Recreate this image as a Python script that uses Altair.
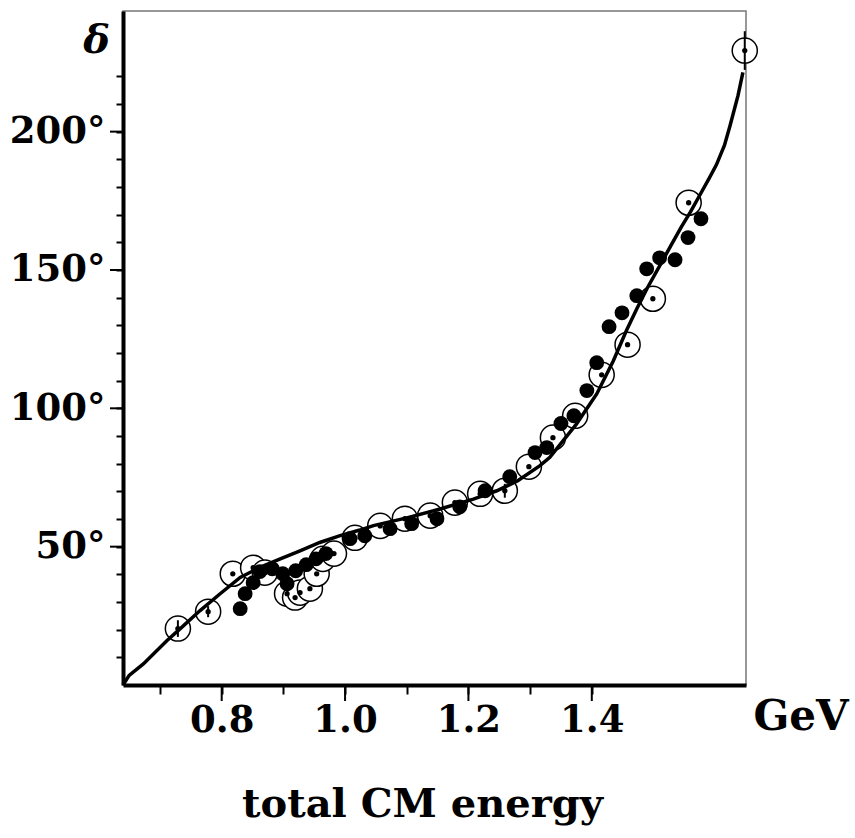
import altair as alt
import pandas as pd

# Theoretical phase-shift curve (energy in GeV, phase in degrees)
curve_e = [0.640, 0.650, 0.673, 0.711, 0.732, 0.765, 0.797, 0.830, 0.862, 0.894,
           0.927, 0.959, 0.992, 1.024, 1.046, 1.100, 1.154, 1.208, 1.246, 1.280,
           1.316, 1.332, 1.375, 1.408, 1.435, 1.456, 1.473, 1.490, 1.510, 1.530,
           1.545, 1.560, 1.575, 1.590, 1.602, 1.615, 1.624, 1.637, 1.645]
curve_d = [0.0, 3.5, 7.6, 16.0, 20.2, 26.9, 32.9, 38.9, 42.5, 45.5,
           48.5, 51.5, 54.0, 56.0, 57.6, 60.4, 63.6, 67.2, 70.2, 73.8,
           79.3, 82.3, 94.3, 105.2, 117.2, 128.0, 136.0, 143.5, 151.5, 159.5,
           165.5, 171.0, 177.0, 183.0, 188.0, 195.0, 202.0, 213.0, 221.4]

# Data set drawn as open circles with a centre dot
open_e = [0.729, 0.778, 0.818, 0.851, 0.870, 0.906, 0.919, 0.927, 0.943, 0.954,
          0.964, 0.982, 1.016, 1.057, 1.097, 1.138, 1.178, 1.219, 1.259, 1.298,
          1.337, 1.373, 1.416, 1.458, 1.499, 1.557, 1.648]
open_d = [20.4, 26.5, 40.2, 42.4, 40.6, 33.0, 31.6, 33.4, 34.8, 40.2,
          45.6, 47.5, 53.2, 57.5, 60.1, 61.2, 65.9, 69.1, 70.2, 78.9,
          89.4, 97.3, 112.1, 123.0, 139.6, 174.3, 229.3]
open_err = [3.0, 2.0, 0, 0, 0, 0, 0, 0, 0, 0,
            0, 0, 0, 0, 0, 0, 0, 0, 2.5, 0,
            0, 0, 0, 0, 0, 0, 7.0]

# Data set drawn as filled circles
fill_e = [0.830, 0.838, 0.851, 0.862, 0.882, 0.899, 0.906, 0.920, 0.937, 0.953,
          0.969, 1.008, 1.032, 1.073, 1.108, 1.149, 1.186, 1.227, 1.267, 1.308,
          1.327, 1.350, 1.371, 1.392, 1.408, 1.428, 1.449, 1.473, 1.489, 1.510,
          1.535, 1.556, 1.577]
fill_d = [27.6, 33.0, 37.0, 41.0, 42.0, 40.2, 36.6, 41.3, 43.5, 45.6,
          47.5, 52.9, 53.9, 56.5, 58.3, 60.1, 64.4, 70.2, 75.3, 84.0,
          85.8, 94.5, 97.3, 106.4, 116.5, 129.5, 134.5, 140.7, 150.4, 154.4,
          153.7, 161.7, 168.5]

x_ticks = [0.7, 0.8, 0.9, 1.0, 1.1, 1.2, 1.3, 1.4]
x_major = [0.8, 1.0, 1.2, 1.4]
y_ticks = list(range(10, 230, 10))
y_major = [50, 100, 150, 200]

FONT = "DejaVu Serif"
W, H = 623, 674

curve_df = pd.DataFrame({"e": curve_e, "d": curve_d})
open_df = pd.DataFrame({"e": open_e, "d": open_d, "err": open_err})
open_df["lo"] = open_df["d"] - open_df["err"]
open_df["hi"] = open_df["d"] + open_df["err"]
err_df = open_df[open_df["err"] > 0]
fill_df = pd.DataFrame({"e": fill_e, "d": fill_d})
unit_df = pd.DataFrame({"label": ["GeV"]})
xmaj_df = pd.DataFrame({"e": x_major})
ymaj_df = pd.DataFrame({"d": y_major})

xs = alt.Scale(domain=[0.64, 1.65], nice=False, zero=False)
ys = alt.Scale(domain=[0, 243.6], nice=False, zero=False)

x_axis = alt.Axis(
    values=x_ticks,
    labelExpr="round(datum.value * 10) % 2 === 0 ? format(datum.value, '.1f') : ''",
    tickSize=9,
    labelFontSize=37, labelFont=FONT, labelFontWeight="bold",
    labelBaseline="alphabetic", labelPadding=37, labelFlush=False,
    title="total CM energy", titleFont=FONT, titleFontSize=40, titleFontWeight="bold",
    titleAlign="center", titleBaseline="alphabetic", titleX=299, titleY=131,
)
y_axis = alt.Axis(
    values=y_ticks,
    labelExpr="datum.value % 50 === 0 ? datum.value + '°' : ''",
    tickSize=7,
    labelFontSize=37, labelFont=FONT, labelFontWeight="bold",
    labelPadding=11, labelFlush=False,
    title="δ", titleFont=FONT, titleFontSize=40, titleFontWeight="bold",
    titleFontStyle="italic", titleAngle=0, titleAlign="center",
    titleBaseline="alphabetic", titleX=-27, titleY=41,
)


def X(field="e"):
    return alt.X(f"{field}:Q", scale=xs, axis=x_axis)


def Y(field="d"):
    return alt.Y(f"{field}:Q", scale=ys, axis=y_axis)


open_pts = alt.Chart(open_df).mark_point(
    shape="circle", filled=False, fill="white", fillOpacity=1,
    stroke="black", strokeWidth=1.5, size=630, opacity=1,
).encode(x=X(), y=Y())

fill_pts = alt.Chart(fill_df).mark_circle(color="black", opacity=1, size=220).encode(
    x=X(), y=Y()
)

curve = alt.Chart(curve_df).mark_line(color="black", strokeWidth=3.5).encode(
    x=X(), y=Y()
)

err_bars = alt.Chart(err_df).mark_rule(color="black", strokeWidth=2).encode(
    x=X(), y=Y("lo"), y2="hi:Q"
)

dots = alt.Chart(open_df).mark_circle(color="black", opacity=1, size=28).encode(
    x=X(), y=Y()
)

# longer ticks at the labelled values
x_major_ticks = alt.Chart(xmaj_df).mark_rule(color="black", strokeWidth=2, clip=False).encode(
    x=X(), y=alt.value(H), y2=alt.value(H + 16)
)
y_major_ticks = alt.Chart(ymaj_df).mark_rule(color="black", strokeWidth=2, clip=False).encode(
    y=Y(), x=alt.value(-13), x2=alt.value(0)
)

unit = alt.Chart(unit_df).mark_text(
    font=FONT, fontSize=42, fontWeight="bold", align="center", baseline="alphabetic",
    color="black",
).encode(text="label:N", x=alt.value(678), y=alt.value(719))

chart = alt.layer(
    open_pts, fill_pts, curve, err_bars, dots, x_major_ticks, y_major_ticks, unit
).properties(
    width=W, height=H,
    autosize=alt.AutoSizeParams(type="none"),
    padding={"left": 123, "top": 11, "right": 109, "bottom": 153},
    background="white",
).configure_view(
    stroke="#777777", strokeWidth=1.5,
).configure_axis(
    domainColor="black", domainWidth=4, tickColor="black", tickWidth=2,
    labelColor="black", titleColor="black", grid=False,
)

chart.save("out.html", embed_options={"renderer": "svg", "actions": False})
